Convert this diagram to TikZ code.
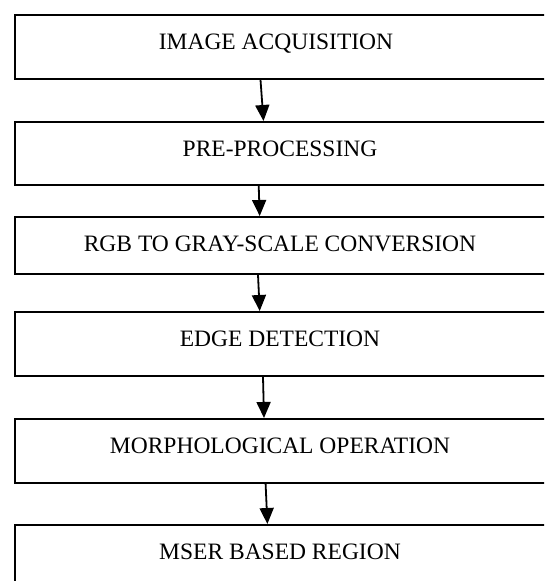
\documentclass[tikz,border=0pt]{standalone}
\usepackage{fontspec}
\setmainfont{Liberation Serif}
\usetikzlibrary{arrows.meta}

\tikzset{
  stagebox/.style={draw=black, line width=1.8pt, rectangle, inner sep=0pt,
    minimum width=570pt, anchor=north},
  stagetext/.style={anchor=base, inner sep=0pt,
    font=\fontsize{23.5}{28}\selectfont},
  flow/.style={line width=1.8pt, -{Triangle[width=14pt,length=16pt]}}
}

\begin{document}
\begin{tikzpicture}[x=1pt, y=-1pt]
  \useasboundingbox (0,0) rectangle (544,581);
  \clip (0,0) rectangle (544,581);

  % processing stages (they run past the right and bottom edges)
  \node[stagebox, minimum height=64pt] (b1) at (300,14) {};
  \node[stagebox, minimum height=63pt] (b2) at (300,121) {};
  \node[stagebox, minimum height=57pt] (b3) at (300,216) {};
  \node[stagebox, minimum height=64pt] (b4) at (300,311) {};
  \node[stagebox, minimum height=64pt] (b5) at (300,418) {};
  \node[stagebox, minimum height=80pt] (b6) at (300,524) {};

  % stage titles
  \node[stagetext] (t1) at ([xshift=-24pt, yshift=-35pt]b1.north) {IMAGE ACQUISITION};
  \node[stagetext] (t2) at ([xshift=-20pt, yshift=-35pt]b2.north) {PRE-PROCESSING};
  \node[stagetext] (t3) at ([xshift=-20pt, yshift=-35pt]b3.north) {RGB TO GRAY-SCALE CONVERSION};
  \node[stagetext] (t4) at ([xshift=-20pt, yshift=-35pt]b4.north) {EDGE DETECTION};
  \node[stagetext] (t5) at ([xshift=-20pt, yshift=-35pt]b5.north) {MORPHOLOGICAL OPERATION};
  \node[stagetext] (t6) at ([xshift=-20pt, yshift=-35pt]b6.north) {MSER BASED REGION};

  % flow between stages
  \draw[flow] ([xshift=-39.5pt]b1.south) -- ([xshift=-36.5pt]b2.north);
  \draw[flow] ([xshift=-41.3pt]b2.south) -- ([xshift=-40.3pt]b3.north);
  \draw[flow] ([xshift=-42pt]b3.south) -- ([xshift=-40.3pt]b4.north);
  \draw[flow] ([xshift=-37pt]b4.south) -- ([xshift=-36pt]b5.north);
  \draw[flow] ([xshift=-34.4pt]b5.south) -- ([xshift=-32.6pt]b6.north);
\end{tikzpicture}
\end{document}
